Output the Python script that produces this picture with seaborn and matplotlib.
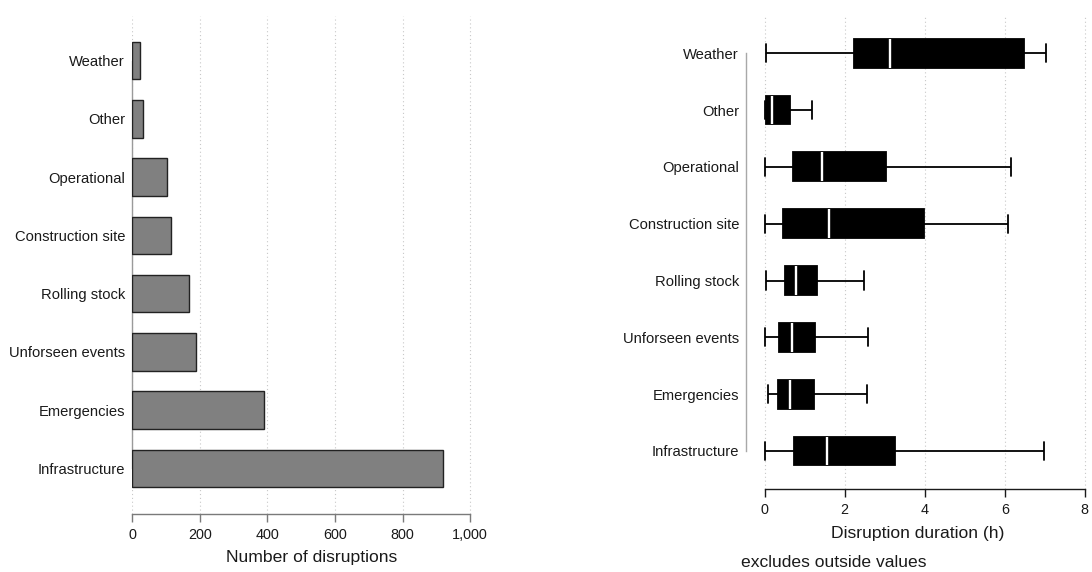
import matplotlib
matplotlib.use("Agg")
import matplotlib.pyplot as plt
import seaborn as sns
import pandas as pd

# Disruption causes, top to bottom
causes = ["Weather", "Other", "Operational", "Construction site",
          "Rolling stock", "Unforseen events", "Emergencies", "Infrastructure"]

# Number of disruptions per cause
counts = [24, 31, 102, 115, 169, 190, 390, 920]

# Duration summary per cause (hours): whisker ends, quartiles, median
whisk_lo = [0.03, 0.00, 0.01, 0.00, 0.02, 0.00, 0.08, 0.00]
q1 = [2.24, 0.03, 0.71, 0.46, 0.51, 0.36, 0.33, 0.73]
median = [3.13, 0.19, 1.43, 1.60, 0.77, 0.67, 0.62, 1.56]
q3 = [6.48, 0.63, 3.02, 3.99, 1.31, 1.26, 1.24, 3.25]
whisk_hi = [7.04, 1.19, 6.15, 6.07, 2.47, 2.58, 2.55, 6.98]

count_ticks = [0, 200, 400, 600, 800, 1000]
count_ticklabels = ["0", "200", "400", "600", "800", "1,000"]
hour_ticks = [0, 2, 4, 6, 8]

sns.set_theme(style="white")
plt.rcParams["font.family"] = ["Liberation Sans", "DejaVu Sans"]
TXT = "#1a1a1a"

W, H = 1092, 572
fig = plt.figure(figsize=(W / 100, H / 100), dpi=100)


def px_axes(left, right, top, bottom):
    return fig.add_axes([left / W, 1 - bottom / H, (right - left) / W, (bottom - top) / H])


grid_kw = dict(color="#c8c8c8", linewidth=0.8, linestyle=(0, (1, 2.5)))

# ---- left: number of disruptions ----
ax1 = px_axes(132.3, 490, 15.7, 514)
bar_df = pd.DataFrame({"cause": causes, "count": counts})
sns.barplot(data=bar_df, x="count", y="cause", order=causes, orient="h",
            color="#808080", saturation=1, edgecolor="#222222", linewidth=1.0,
            width=0.645, ax=ax1, zorder=3)
ax1.set_xlim(0, 1059)
ax1.set_ylim(7.781, -0.769)
ax1.set_xticks(count_ticks)
ax1.set_xticklabels(count_ticklabels)
for t in count_ticks:
    ax1.axvline(t, zorder=0, **grid_kw)
for side in ("top", "right"):
    ax1.spines[side].set_visible(False)
ax1.spines["left"].set_bounds(0, 7)
ax1.spines["left"].set_color("#9a9a9a")
ax1.spines["left"].set_linewidth(1.0)
ax1.spines["bottom"].set_bounds(0, 1000)
ax1.spines["bottom"].set_color("#7a7a7a")
ax1.spines["bottom"].set_linewidth(1.0)
ax1.tick_params(axis="x", bottom=True, length=6, width=1.0, color="#7a7a7a",
                pad=4, labelsize=10.4, labelcolor=TXT)
ax1.tick_params(axis="y", left=False, length=0, pad=5.2, labelsize=10.6, labelcolor=TXT)
ax1.set_ylabel("")
ax1.set_xlabel("Number of disruptions", fontsize=12.6, color=TXT, labelpad=6)

# ---- right: disruption duration ----
ax2 = px_axes(746.3, 1090, 16.7, 489.3)
rows = []
for c, a, b, m, d, e in zip(causes, whisk_lo, q1, median, q3, whisk_hi):
    for v in (a, b, m, d, e):
        rows.append({"cause": c, "hours": v})
box_df = pd.DataFrame(rows)
sns.boxplot(data=box_df, x="hours", y="cause", order=causes, orient="h",
            whis=(0, 100), width=0.505, color="black", saturation=1,
            linecolor="black", linewidth=1.3, showfliers=False, ax=ax2,
            medianprops=dict(color="white", linewidth=1.7),
            capwidths=0.32, zorder=3)
ax2.set_xlim(-0.46, 8.13)
ax2.set_ylim(7.674, -0.642)
ax2.set_xticks(hour_ticks)
ax2.set_xticklabels([str(t) for t in hour_ticks])
for t in hour_ticks:
    ax2.axvline(t, zorder=0, **grid_kw)
for side in ("top", "right"):
    ax2.spines[side].set_visible(False)
ax2.spines["left"].set_bounds(0, 7)
ax2.spines["left"].set_color("#a8a8a8")
ax2.spines["left"].set_linewidth(1.0)
ax2.spines["bottom"].set_bounds(0, 8)
ax2.spines["bottom"].set_color("#1a1a1a")
ax2.spines["bottom"].set_linewidth(1.0)
ax2.tick_params(axis="x", bottom=True, length=6, width=1.0, color="#1a1a1a",
                pad=4, labelsize=10.4, labelcolor=TXT)
ax2.tick_params(axis="y", left=False, length=0, pad=5.2, labelsize=10.6, labelcolor=TXT)
ax2.set_ylabel("")
ax2.set_xlabel("Disruption duration (h)", fontsize=12.6, color=TXT, labelpad=6)

fig.text(741 / W, 1 - 562.7 / H, "excludes outside values", fontsize=12.6,
         color=TXT, ha="left", va="center")

fig.savefig("out.png", dpi=100)
